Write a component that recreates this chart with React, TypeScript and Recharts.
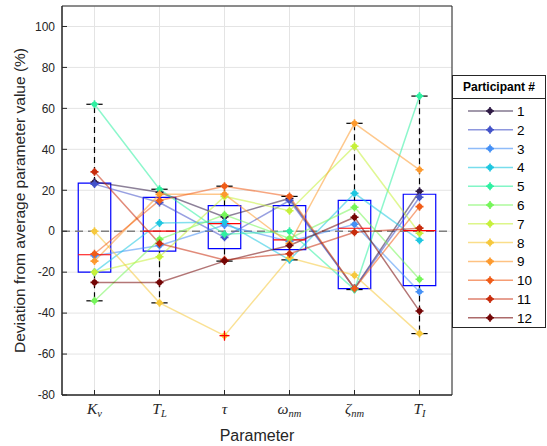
import React from "react";
import {
  ComposedChart,
  Line,
  XAxis,
  YAxis,
  CartesianGrid,
  ReferenceLine,
  ReferenceArea,
  ReferenceDot,
} from "recharts";

// Parameter axis: italic symbol + subscript
const tickMain = ["K", "T", "τ", "ω", "ζ", "T"];
const tickSub = ["v", "L", "", "nm", "nm", "I"];
const categories = [1, 2, 3, 4, 5, 6];
const yTicks = [-80, -60, -40, -20, 0, 20, 40, 60, 80, 100];

const participants = ["1", "2", "3", "4", "5", "6", "7", "8", "9", "10", "11", "12"];
const colors = [
  "#2f1a45", "#4352c8", "#4590f5", "#1ec6e0", "#2ff0a2", "#76f55a",
  "#c6f03a", "#f6c83c", "#fd9a2e", "#f05c18", "#c82c0c", "#740606",
];

// deviation (%) per participant, in order Kv, TL, tau, wnm, znm, TI
const p1 = [24, 19, 7, 16, -28, 19.5];
const p2 = [23, 14, -3, 15, -28, 16.6];
const p3 = [-12, -7, 3, -5, 3.4, -29.6];
const p4 = [-20, 4, 4.5, -14, 18.5, -4.4];
const p5 = [62, 20.5, -1.5, 0, -28.5, 66];
const p6 = [-34, -4, 8, -3.5, 11.7, -23.5];
const p7 = [-20, -12.5, 17, 10, 41.5, -1];
const p8 = [0, -35, -51, -13, -21.5, -50];
const p9 = [-14.6, 18, 18, -6, 52.7, 30];
const p10 = [-11, 15, 22, 17, -28, 12];
const p11 = [29, -6, -14, -11, -0.5, 1.5];
const p12 = [-25, -25, -14.6, -7, 6.8, -39];
const series = [p1, p2, p3, p4, p5, p6, p7, p8, p9, p10, p11, p12];

const rows = categories.map((c, i) => {
  const row: Record<string, number> = { x: c };
  series.forEach((s, k) => {
    row[`p${k + 1}`] = s[i];
  });
  return row;
});

// percentile the way MATLAB's prctile does it
function pct(sorted: number[], p: number) {
  const n = sorted.length;
  const pos = n * p + 0.5;
  if (pos <= 1) return sorted[0];
  if (pos >= n) return sorted[n - 1];
  const lo = Math.floor(pos);
  const f = pos - lo;
  return sorted[lo - 1] + f * (sorted[lo] - sorted[lo - 1]);
}

const boxStats = categories.map((c, i) => {
  const vals = series.map((s) => s[i]).sort((a, b) => a - b);
  const q1 = pct(vals, 0.25);
  const med = pct(vals, 0.5);
  const q3 = pct(vals, 0.75);
  const iqr = q3 - q1;
  const inside = vals.filter((v) => v >= q1 - 1.5 * iqr && v <= q3 + 1.5 * iqr);
  const outliers = vals.filter((v) => v < q1 - 1.5 * iqr || v > q3 + 1.5 * iqr);
  return { c, q1, med, q3, lo: Math.min(...inside), hi: Math.max(...inside), outliers };
});

const axisColor = "#262626";

function makeDot(color: string) {
  return (props: any) => {
    const { cx, cy, index } = props;
    if (cx == null || cy == null) return <g key={index} />;
    return (
      <g key={index}>
        <circle cx={cx} cy={cy} r={2.8} fill={color} />
        <path
          d={`M${cx - 4},${cy}H${cx + 4}M${cx},${cy - 4}V${cy + 4}`}
          stroke={color}
          strokeWidth={1.6}
        />
      </g>
    );
  };
}

function ParamTick(props: any) {
  const { x, y, payload } = props;
  const i = payload.value - 1;
  return (
    <text
      x={x}
      y={y}
      dy={14}
      textAnchor="middle"
      fontFamily="'Liberation Serif', serif"
      fontStyle="italic"
      fontSize={15.5}
      fill={axisColor}
    >
      {tickMain[i]}
      {tickSub[i] && (
        <tspan dy={3} fontSize={10.5}>
          {tickSub[i]}
        </tspan>
      )}
    </text>
  );
}

function PlusShape(props: any) {
  const { cx, cy } = props;
  return (
    <path
      d={`M${cx - 5},${cy}H${cx + 5}M${cx},${cy - 5}V${cy + 5}`}
      stroke="#ff0000"
      strokeWidth={1.2}
      fill="none"
    />
  );
}

function LegendBox() {
  const rowH = 18.8;
  return (
    <div
      style={{
        position: "absolute",
        left: 452,
        top: 75,
        width: 94,
        background: "#fff",
        fontFamily: "'Liberation Sans', Arial, sans-serif",
      }}
    >
      <div
        style={{
          border: `1px solid ${axisColor}`,
          height: 22,
          lineHeight: "22px",
          textAlign: "center",
          fontWeight: "bold",
          fontSize: 12,
          color: "#000",
        }}
      >
        Participant #
      </div>
      <svg
        width={94}
        height={229}
        style={{ display: "block", border: `1px solid ${axisColor}`, borderTop: "none", boxSizing: "border-box" }}
      >
        {participants.map((p, k) => {
          const y = 12 + k * rowH;
          const c = colors[k];
          return (
            <g key={p}>
              <line x1={15} x2={60} y1={y} y2={y} stroke={c} strokeWidth={1.5} strokeOpacity={0.6} />
              <circle cx={37} cy={y} r={2.8} fill={c} />
              <path d={`M33,${y}H41M37,${y - 4}V${y + 4}`} stroke={c} strokeWidth={1.6} />
              <text x={64} y={y + 5} fontSize={13.5} fill="#000">
                {p}
              </text>
            </g>
          );
        })}
      </svg>
    </div>
  );
}

export default function App() {
  return (
    <div
      style={{
        position: "absolute",
        left: 0,
        top: 0,
        width: 547,
        height: 446,
        background: "#fff",
        fontFamily: "'Liberation Sans', Arial, sans-serif",
      }}
    >
      <ComposedChart
        width={547}
        height={446}
        data={rows}
        margin={{ top: 6, right: 95, bottom: 0, left: 12 }}
      >
        <CartesianGrid stroke="#e4e4e4" strokeWidth={1} />
        <XAxis
          dataKey="x"
          type="number"
          domain={[0.5, 6.5]}
          ticks={categories}
          interval={0}
          allowDataOverflow
          height={51}
          tickSize={-5}
          tickMargin={10}
          tickLine={{ stroke: axisColor }}
          axisLine={{ stroke: axisColor }}
          tick={<ParamTick />}
          label={{ value: "Parameter", position: "insideBottom", offset: 5, fill: axisColor, fontSize: 16 }}
        />
        <YAxis
          type="number"
          domain={[-80, 110]}
          ticks={yTicks}
          interval={0}
          allowDataOverflow
          width={50}
          tickSize={-5}
          tickMargin={12}
          tickLine={{ stroke: axisColor }}
          axisLine={{ stroke: axisColor }}
          tick={{ fill: axisColor, fontSize: 12 }}
          label={{
            content: (props: any) => {
              const vb = props.viewBox;
              const cy = vb.y + vb.height / 2;
              return (
                <text
                  x={19}
                  y={cy}
                  transform={`rotate(-90, 19, ${cy})`}
                  textAnchor="middle"
                  dominantBaseline="central"
                  fontSize={15.5}
                  fill={axisColor}
                >
                  Deviation from average parameter value (%)
                </text>
              );
            },
          }}
        />
        <ReferenceArea
          x1={0.5}
          x2={6.5}
          y1={-80}
          y2={110}
          fill="none"
          stroke={axisColor}
          strokeWidth={1}
          ifOverflow="visible"
        />
        <ReferenceLine y={0} stroke="#808080" strokeWidth={1.5} strokeDasharray="8 5" />

        {participants.map((p, k) => (
          <Line
            key={`l${p}`}
            dataKey={`p${k + 1}`}
            stroke={colors[k]}
            strokeOpacity={0.55}
            strokeWidth={1.5}
            dot={false}
            activeDot={false}
            isAnimationActive={false}
          />
        ))}

        {boxStats.map((b) => (
          <ReferenceArea
            key={`box${b.c}`}
            x1={b.c - 0.25}
            x2={b.c + 0.25}
            y1={b.q1}
            y2={b.q3}
            fill="none"
            fillOpacity={0}
            stroke="#0000ff"
            strokeWidth={1.2}
            ifOverflow="visible"
          />
        ))}
        {boxStats.map((b) => (
          <ReferenceLine
            key={`med${b.c}`}
            segment={[
              { x: b.c - 0.25, y: b.med },
              { x: b.c + 0.25, y: b.med },
            ]}
            stroke="#ff0000"
            strokeWidth={1.2}
          />
        ))}
        {boxStats.map((b) => (
          <ReferenceLine
            key={`wu${b.c}`}
            segment={[
              { x: b.c, y: b.q3 },
              { x: b.c, y: b.hi },
            ]}
            stroke="#000"
            strokeWidth={1.2}
            strokeDasharray="6 4"
          />
        ))}
        {boxStats.map((b) => (
          <ReferenceLine
            key={`wl${b.c}`}
            segment={[
              { x: b.c, y: b.q1 },
              { x: b.c, y: b.lo },
            ]}
            stroke="#000"
            strokeWidth={1.2}
            strokeDasharray="6 4"
          />
        ))}
        {boxStats.map((b) => (
          <ReferenceLine
            key={`cu${b.c}`}
            segment={[
              { x: b.c - 0.125, y: b.hi },
              { x: b.c + 0.125, y: b.hi },
            ]}
            stroke="#000"
            strokeWidth={1.2}
          />
        ))}
        {boxStats.map((b) => (
          <ReferenceLine
            key={`cl${b.c}`}
            segment={[
              { x: b.c - 0.125, y: b.lo },
              { x: b.c + 0.125, y: b.lo },
            ]}
            stroke="#000"
            strokeWidth={1.2}
          />
        ))}

        {participants.map((p, k) => (
          <Line
            key={`d${p}`}
            dataKey={`p${k + 1}`}
            stroke="none"
            dot={makeDot(colors[k])}
            activeDot={false}
            isAnimationActive={false}
          />
        ))}

        {boxStats.flatMap((b) =>
          b.outliers.map((v, j) => (
            <ReferenceDot key={`o${b.c}-${j}`} x={b.c} y={v} r={5} shape={<PlusShape />} ifOverflow="visible" />
          ))
        )}
      </ComposedChart>
      <LegendBox />
    </div>
  );
}
